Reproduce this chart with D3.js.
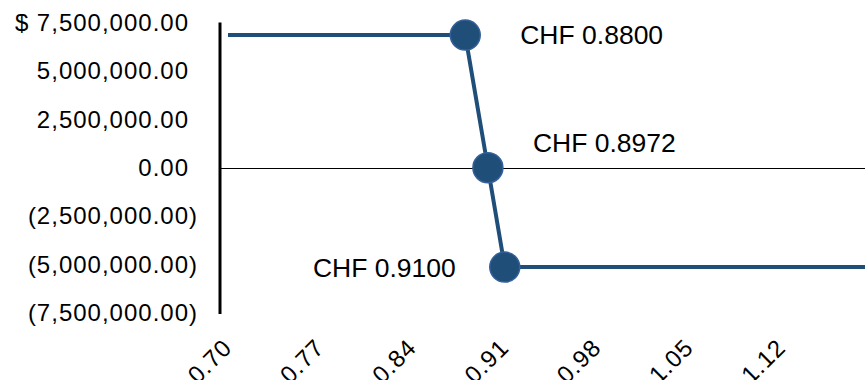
<!DOCTYPE html>
<html>
<head>
<meta charset="utf-8">
<script src="https://cdn.jsdelivr.net/npm/d3@7"></script>
<style>
  body { margin: 0; background: #fff; }
  svg { display: block; font-family: "Liberation Sans", Arial, sans-serif; }
</style>
</head>
<body>
<div id="chart"></div>
<script>
// exchange rate (CHF) vs payoff ($)
var rates = [0.70, 0.88, 0.8972, 0.91, 1.19];
var payoffs = [6850000, 6850000, 0, -5130000, -5130000];
var markerRates = [0.88, 0.8972, 0.91];
var markerPayoffs = [6850000, 0, -5130000];
var markerLabels = ['CHF 0.8800', 'CHF 0.8972', 'CHF 0.9100'];
var xTicks = [0.70, 0.77, 0.84, 0.91, 0.98, 1.05, 1.12];
var yTicks = [-7500000, -5000000, -2500000, 0, 2500000, 5000000, 7500000];

var width = 865, height = 380;
var blue = '#1f4e79';

var svg = d3.select('#chart').append('svg')
    .attr('width', width)
    .attr('height', height);

var x = d3.scaleLinear()
    .domain([0.70, 1.12])
    .range([228, 228 + 42 * 13.18]);

var y = d3.scaleLinear()
    .domain([-7500000, 7500000])
    .range([313, 22.5]);

var axisX = 220;

// zero line
svg.append('line')
    .attr('x1', axisX).attr('x2', width)
    .attr('y1', Math.round(y(0)) + 0.5).attr('y2', Math.round(y(0)) + 0.5)
    .attr('stroke', '#000')
    .attr('stroke-width', 1);

// vertical axis line
svg.append('line')
    .attr('x1', axisX).attr('x2', axisX)
    .attr('y1', y(7500000)).attr('y2', y(-7500000) + 1)
    .attr('stroke', '#000')
    .attr('stroke-width', 3);

var fmt = d3.format(',.2f');
function yFormat(v) {
  if (v < 0) return '(' + fmt(-v) + ')';
  return fmt(v);
}

var gy = svg.append('g')
    .attr('transform', 'translate(' + axisX + ',0)')
    .call(d3.axisLeft(y).tickValues(yTicks).tickSize(0).tickFormat(yFormat));
gy.select('.domain').remove();
gy.selectAll('.tick text')
    .attr('x', function(d) { return d < 0 ? -22 : -31; })
    .attr('font-size', 24)
    .attr('letter-spacing', 1)
    .attr('fill', '#000')
    .attr('font-family', '"Liberation Sans", Arial, sans-serif');

svg.append('text')
    .attr('x', 15)
    .attr('y', y(7500000))
    .attr('dy', '0.35em')
    .attr('font-size', 24)
    .text('$');

var gx = svg.append('g')
    .attr('transform', 'translate(0,349)')
    .call(d3.axisBottom(x).tickValues(xTicks).tickSize(0).tickFormat(d3.format('.2f')));
gx.select('.domain').remove();
gx.selectAll('.tick text')
    .attr('x', 0).attr('y', 0).attr('dy', 0)
    .attr('text-anchor', 'end')
    .attr('transform', 'translate(5,0) rotate(-45)')
    .attr('font-size', 24)
    .attr('letter-spacing', 1)
    .attr('fill', '#000')
    .attr('font-family', '"Liberation Sans", Arial, sans-serif');

var pts = rates.map(function(r, i) { return [r, payoffs[i]]; });

svg.append('path')
    .datum(pts)
    .attr('fill', 'none')
    .attr('stroke', blue)
    .attr('stroke-width', 4)
    .attr('stroke-linejoin', 'round')
    .attr('d', d3.line()
      .x(function(d) { return x(d[0]); })
      .y(function(d) { return y(d[1]); }));

var markers = markerRates.map(function(r, i) {
  return { r: r, v: markerPayoffs[i], label: markerLabels[i] };
});

svg.selectAll('.marker')
    .data(markers)
  .enter().append('circle')
    .attr('class', 'marker')
    .attr('cx', function(d) { return x(d.r); })
    .attr('cy', function(d) { return y(d.v); })
    .attr('r', 15)
    .attr('fill', blue)
    .attr('stroke', '#35609a')
    .attr('stroke-width', 1.5);

// label offsets from the marker
var labelPos = [
  { dx: 55, dy: 9, anchor: 'start' },
  { dx: 45, dy: -16, anchor: 'start' },
  { dx: -49, dy: 10, anchor: 'end' }
];

svg.selectAll('.mlabel')
    .data(markers)
  .enter().append('text')
    .attr('class', 'mlabel')
    .attr('x', function(d, i) { return x(d.r) + labelPos[i].dx; })
    .attr('y', function(d, i) { return y(d.v) + labelPos[i].dy; })
    .attr('text-anchor', function(d, i) { return labelPos[i].anchor; })
    .attr('font-size', 26.5)
    .attr('fill', '#000')
    .text(function(d) { return d.label; });
</script>
</body>
</html>
